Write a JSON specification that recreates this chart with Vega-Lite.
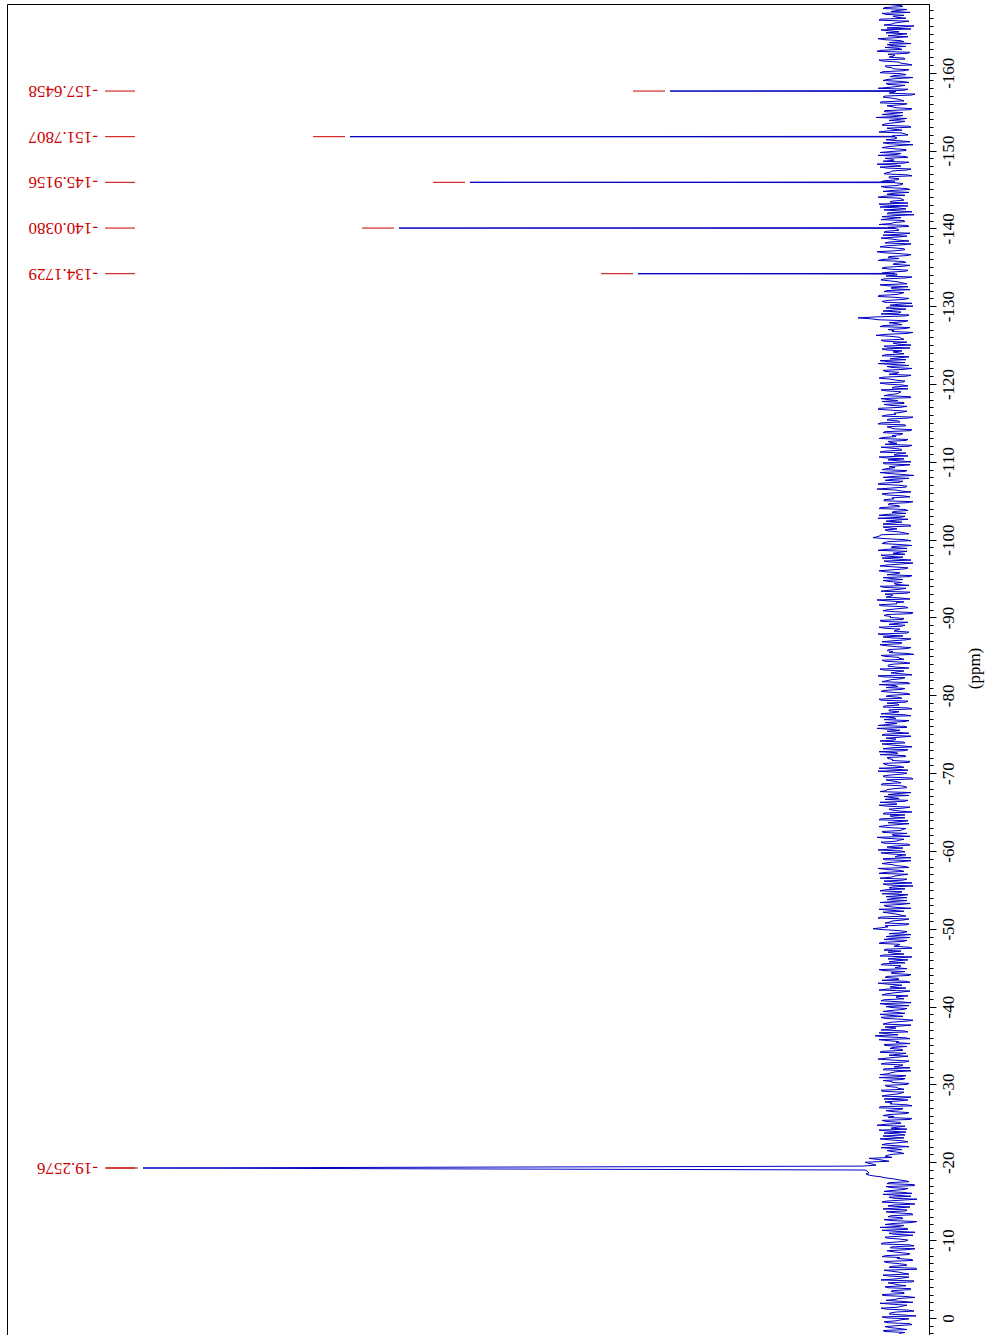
{
"$schema": "https://vega.github.io/schema/vega-lite/v6.json",
"width": 922, "height": 1331,
"autosize": {"type": "none"},
"padding": {"left": 7, "top": 4, "right": 60, "bottom": 0},
"background": "white",
"config": {"view": {"stroke": "black", "strokeWidth": 1}},
"datasets": {
"peaks": [
{"p":-157.6458,"i":225,"t":"-157.6458"},
{"p":-151.7807,"i":545,"t":"-151.7807"},
{"p":-145.9156,"i":425,"t":"-145.9156"},
{"p":-140.038,"i":496,"t":"-140.0380"},
{"p":-134.1729,"i":257,"t":"-134.1729"},
{"p":-19.2576,"i":752,"t":"-19.2576"}
],
"spec": [
{"p":-168.75,"i":5},{"p":-168.5,"i":-8},{"p":-168.25,"i":12},{"p":-168,"i":-3},{"p":-167.75,"i":-15},{"p":-167.5,"i":9},{"p":-167.25,"i":2},{"p":-167,"i":-11},{"p":-166.75,"i":16},{"p":-166.5,"i":-6},{"p":-166.25,"i":3},{"p":-166,"i":-19},{"p":-165.75,"i":8},{"p":-165.5,"i":14},{"p":-165.25,"i":-4},{"p":-165,"i":-12},{"p":-164.75,"i":7},{"p":-164.5,"i":-1},{"p":-164.25,"i":11},{"p":-164,"i":-9},
{"p":-163.75,"i":-16},{"p":-163.5,"i":4},{"p":-163.25,"i":10},{"p":-163,"i":-7},{"p":-162.75,"i":18},{"p":-162.5,"i":-13},{"p":-162.25,"i":0},{"p":-162,"i":6},{"p":-161.75,"i":-10},{"p":-161.5,"i":13},{"p":-161.25,"i":-5},{"p":-161,"i":-17},{"p":-160.75,"i":9},{"p":-160.5,"i":2},{"p":-160.25,"i":-8},{"p":-160,"i":15},{"p":-159.75,"i":-11},{"p":-159.5,"i":5},{"p":-159.25,"i":-2},{"p":-159,"i":12},
{"p":-158.75,"i":-14},{"p":-158.5,"i":7},{"p":-158.25,"i":-3},{"p":-158,"i":17},{"p":-157.75,"i":-9},{"p":-157.69,"i":1},{"p":-157.6458,"i":225},{"p":-157.6,"i":-1},{"p":-157.5,"i":1},{"p":-157.25,"i":-20},{"p":-157,"i":10},{"p":-156.75,"i":4},{"p":-156.5,"i":-6},{"p":-156.25,"i":14},{"p":-156,"i":-12},{"p":-155.75,"i":8},{"p":-155.5,"i":-1},{"p":-155.25,"i":-15},{"p":-155,"i":11},{"p":-154.75,"i":3},{"p":-154.5,"i":-8},{"p":-154.25,"i":19},{"p":-154,"i":-4},
{"p":-153.75,"i":-10},{"p":-153.5,"i":6},{"p":-153.25,"i":13},{"p":-153,"i":-16},{"p":-152.75,"i":2},{"p":-152.5,"i":9},{"p":-152.25,"i":-7},{"p":-152,"i":-13},{"p":-151.82,"i":0},{"p":-151.7807,"i":545},{"p":-151.75,"i":1},{"p":-151.5,"i":0},{"p":-151.25,"i":-5},{"p":-151,"i":12},{"p":-150.75,"i":-18},{"p":-150.5,"i":7},{"p":-150.25,"i":3},{"p":-150,"i":-11},{"p":-149.75,"i":15},{"p":-149.5,"i":-2},{"p":-149.25,"i":-9},{"p":-149,"i":10},
{"p":-148.75,"i":1},{"p":-148.5,"i":-14},{"p":-148.25,"i":18},{"p":-148,"i":-6},{"p":-147.75,"i":8},{"p":-147.5,"i":-12},{"p":-147.25,"i":4},{"p":-147,"i":11},{"p":-146.75,"i":-17},{"p":-146.5,"i":6},{"p":-146.25,"i":-3},{"p":-146,"i":14},{"p":-145.955,"i":0},{"p":-145.9156,"i":425},{"p":-145.875,"i":1},{"p":-145.75,"i":-8},{"p":-145.5,"i":-1},{"p":-145.25,"i":9},{"p":-145,"i":-15},{"p":-144.75,"i":12},{"p":-144.5,"i":2},{"p":-144.25,"i":-10},{"p":-144,"i":17},
{"p":-143.75,"i":-7},{"p":-143.5,"i":3},{"p":-143.25,"i":-13},{"p":-143,"i":10},{"p":-142.75,"i":15},{"p":-142.5,"i":-11},{"p":-142.25,"i":-2},{"p":-142,"i":7},{"p":-141.75,"i":-19},{"p":-141.5,"i":13},{"p":-141.25,"i":5},{"p":-141,"i":-9},{"p":-140.75,"i":1},{"p":-140.5,"i":16},{"p":-140.25,"i":-14},{"p":-140.08,"i":0},{"p":-140.038,"i":496},{"p":-140,"i":0},{"p":-139.75,"i":-4},{"p":-139.5,"i":11},{"p":-139.25,"i":-6},{"p":-139,"i":-12},
{"p":-138.75,"i":14},{"p":-138.5,"i":-3},{"p":-138.25,"i":6},{"p":-138,"i":-16},{"p":-137.75,"i":9},{"p":-137.5,"i":2},{"p":-137.25,"i":-10},{"p":-137,"i":18},{"p":-136.75,"i":-5},{"p":-136.5,"i":-12},{"p":-136.25,"i":7},{"p":-136,"i":12},{"p":-135.75,"i":-8},{"p":-135.5,"i":0},{"p":-135.25,"i":-15},{"p":-135,"i":10},{"p":-134.75,"i":4},{"p":-134.5,"i":-11},{"p":-134.25,"i":13},{"p":-134.21,"i":0},{"p":-134.1729,"i":257},{"p":-134.13,"i":1},{"p":-134,"i":-2},
{"p":-133.75,"i":-17},{"p":-133.5,"i":11},{"p":-133.25,"i":5},{"p":-133,"i":-7},{"p":-132.75,"i":15},{"p":-132.5,"i":-13},{"p":-132.25,"i":3},{"p":-132,"i":8},{"p":-131.75,"i":-9},{"p":-131.5,"i":-1},{"p":-131.25,"i":17},{"p":-131,"i":-14},{"p":-130.75,"i":6},{"p":-130.5,"i":10},{"p":-130.25,"i":-4},{"p":-130,"i":-18},{"p":-129.75,"i":9},{"p":-129.5,"i":1},{"p":-129.25,"i":-6},{"p":-129,"i":14},
{"p":-128.75,"i":-11},{"p":-128.5,"i":37},{"p":-128.25,"i":16},{"p":-128,"i":-8},{"p":-127.75,"i":-2},{"p":-127.5,"i":12},{"p":-127.25,"i":-15},{"p":-127,"i":7},{"p":-126.75,"i":3},{"p":-126.5,"i":-12},{"p":-126.25,"i":19},{"p":-126,"i":-5},{"p":-125.75,"i":-9},{"p":-125.5,"i":11},{"p":-125.25,"i":2},{"p":-125,"i":-16},{"p":-124.75,"i":8},{"p":-124.5,"i":13},{"p":-124.25,"i":-7},{"p":-124,"i":-3},
{"p":-123.75,"i":10},{"p":-123.5,"i":-14},{"p":-123.25,"i":5},{"p":-123,"i":15},{"p":-122.75,"i":-10},{"p":-122.5,"i":0},{"p":-122.25,"i":8},{"p":-122,"i":-17},{"p":-121.75,"i":12},{"p":-121.5,"i":-4},{"p":-121.25,"i":6},{"p":-121,"i":-11},{"p":-120.75,"i":16},{"p":-120.5,"i":-1},{"p":-120.25,"i":-8},{"p":-120,"i":9},{"p":-119.75,"i":-13},{"p":-119.5,"i":3},{"p":-119.25,"i":14},{"p":-119,"i":-6},
{"p":-118.75,"i":-2},{"p":-118.5,"i":11},{"p":-118.25,"i":-16},{"p":-118,"i":7},{"p":-117.75,"i":13},{"p":-117.5,"i":-9},{"p":-117.25,"i":4},{"p":-117,"i":-5},{"p":-116.75,"i":17},{"p":-116.5,"i":-12},{"p":-116.25,"i":1},{"p":-116,"i":9},{"p":-115.75,"i":-18},{"p":-115.5,"i":6},{"p":-115.25,"i":-3},{"p":-115,"i":14},{"p":-114.75,"i":-10},{"p":-114.5,"i":8},{"p":-114.25,"i":2},{"p":-114,"i":-15},
{"p":-113.75,"i":12},{"p":-113.5,"i":-6},{"p":-113.25,"i":-1},{"p":-113,"i":16},{"p":-112.75,"i":-11},{"p":-112.5,"i":5},{"p":-112.25,"i":10},{"p":-112,"i":-14},{"p":-111.75,"i":3},{"p":-111.5,"i":-7},{"p":-111.25,"i":15},{"p":-111,"i":-2},{"p":-110.75,"i":-13},{"p":-110.5,"i":9},{"p":-110.25,"i":7},{"p":-110,"i":-16},{"p":-109.75,"i":11},{"p":-109.5,"i":-4},{"p":-109.25,"i":0},{"p":-109,"i":13},
{"p":-108.75,"i":-9},{"p":-108.5,"i":6},{"p":-108.25,"i":-19},{"p":-108,"i":12},{"p":-107.75,"i":2},{"p":-107.5,"i":-8},{"p":-107.25,"i":14},{"p":-107,"i":-3},{"p":-106.75,"i":-11},{"p":-106.5,"i":18},{"p":-106.25,"i":-6},{"p":-106,"i":4},{"p":-105.75,"i":9},{"p":-105.5,"i":-15},{"p":-105.25,"i":1},{"p":-105,"i":11},{"p":-104.75,"i":-12},{"p":-104.5,"i":7},{"p":-104.25,"i":-5},{"p":-104,"i":16},
{"p":-103.75,"i":-13},{"p":-103.5,"i":3},{"p":-103.25,"i":8},{"p":-103,"i":-10},{"p":-102.75,"i":17},{"p":-102.5,"i":-1},{"p":-102.25,"i":-7},{"p":-102,"i":12},{"p":-101.75,"i":-16},{"p":-101.5,"i":5},{"p":-101.25,"i":10},{"p":-101,"i":-4},{"p":-100.75,"i":-14},{"p":-100.5,"i":15},{"p":-100.25,"i":22},{"p":-100,"i":-9},{"p":-99.75,"i":6},{"p":-99.5,"i":13},{"p":-99.25,"i":-17},{"p":-99,"i":4},
{"p":-98.75,"i":9},{"p":-98.5,"i":-12},{"p":-98.25,"i":2},{"p":-98,"i":14},{"p":-97.75,"i":-8},{"p":-97.5,"i":-3},{"p":-97.25,"i":11},{"p":-97,"i":-18},{"p":-96.75,"i":7},{"p":-96.5,"i":1},{"p":-96.25,"i":-10},{"p":-96,"i":16},{"p":-95.75,"i":-5},{"p":-95.5,"i":8},{"p":-95.25,"i":-14},{"p":-95,"i":3},{"p":-94.75,"i":12},{"p":-94.5,"i":-7},{"p":-94.25,"i":-1},{"p":-94,"i":15},
{"p":-93.75,"i":-11},{"p":-93.5,"i":6},{"p":-93.25,"i":-15},{"p":-93,"i":10},{"p":-92.75,"i":4},{"p":-92.5,"i":-6},{"p":-92.25,"i":18},{"p":-92,"i":-9},{"p":-91.75,"i":-2},{"p":-91.5,"i":13},{"p":-91.25,"i":-13},{"p":-91,"i":7},{"p":-90.75,"i":2},{"p":-90.5,"i":-17},{"p":-90.25,"i":11},{"p":-90,"i":5},{"p":-89.75,"i":-8},{"p":-89.5,"i":14},{"p":-89.25,"i":-3},{"p":-89,"i":-10},
{"p":-88.75,"i":16},{"p":-88.5,"i":-5},{"p":-88.25,"i":1},{"p":-88,"i":-12},{"p":-87.75,"i":9},{"p":-87.5,"i":12},{"p":-87.25,"i":-16},{"p":-87,"i":3},{"p":-86.75,"i":-7},{"p":-86.5,"i":15},{"p":-86.25,"i":-1},{"p":-86,"i":-11},{"p":-85.75,"i":8},{"p":-85.5,"i":6},{"p":-85.25,"i":-19},{"p":-85,"i":10},{"p":-84.75,"i":-4},{"p":-84.5,"i":13},{"p":-84.25,"i":-9},{"p":-84,"i":2},
{"p":-83.75,"i":7},{"p":-83.5,"i":-14},{"p":-83.25,"i":11},{"p":-83,"i":-2},{"p":-82.75,"i":-8},{"p":-82.5,"i":17},{"p":-82.25,"i":-10},{"p":-82,"i":4},{"p":-81.75,"i":13},{"p":-81.5,"i":-15},{"p":-81.25,"i":0},{"p":-81,"i":9},{"p":-80.75,"i":-6},{"p":-80.5,"i":14},{"p":-80.25,"i":-12},{"p":-80,"i":5},{"p":-79.75,"i":-3},{"p":-79.5,"i":16},{"p":-79.25,"i":-13},{"p":-79,"i":8},
{"p":-78.75,"i":-4},{"p":-78.5,"i":12},{"p":-78.25,"i":-17},{"p":-78,"i":6},{"p":-77.75,"i":3},{"p":-77.5,"i":-9},{"p":-77.25,"i":15},{"p":-77,"i":-1},{"p":-76.75,"i":-14},{"p":-76.5,"i":10},{"p":-76.25,"i":7},{"p":-76,"i":-11},{"p":-75.75,"i":18},{"p":-75.5,"i":-5},{"p":-75.25,"i":-2},{"p":-75,"i":11},{"p":-74.75,"i":-16},{"p":-74.5,"i":9},{"p":-74.25,"i":1},{"p":-74,"i":-8},
{"p":-73.75,"i":13},{"p":-73.5,"i":-7},{"p":-73.25,"i":4},{"p":-73,"i":-13},{"p":-72.75,"i":16},{"p":-72.5,"i":-3},{"p":-72.25,"i":-10},{"p":-72,"i":8},{"p":-71.75,"i":2},{"p":-71.5,"i":-15},{"p":-71.25,"i":12},{"p":-71,"i":6},{"p":-70.75,"i":-9},{"p":-70.5,"i":-1},{"p":-70.25,"i":17},{"p":-70,"i":-12},{"p":-69.75,"i":5},{"p":-69.5,"i":10},{"p":-69.25,"i":-18},{"p":-69,"i":3},
{"p":-68.75,"i":-6},{"p":-68.5,"i":14},{"p":-68.25,"i":-11},{"p":-68,"i":1},{"p":-67.75,"i":9},{"p":-67.5,"i":-16},{"p":-67.25,"i":7},{"p":-67,"i":11},{"p":-66.75,"i":-4},{"p":-66.5,"i":-13},{"p":-66.25,"i":15},{"p":-66,"i":-2},{"p":-65.75,"i":8},{"p":-65.5,"i":-8},{"p":-65.25,"i":3},{"p":-65,"i":-17},{"p":-64.75,"i":12},{"p":-64.5,"i":5},{"p":-64.25,"i":-10},{"p":-64,"i":16},
{"p":-63.75,"i":-3},{"p":-63.5,"i":-14},{"p":-63.25,"i":10},{"p":-63,"i":6},{"p":-62.75,"i":-7},{"p":-62.5,"i":13},{"p":-62.25,"i":-12},{"p":-62,"i":2},{"p":-61.75,"i":18},{"p":-61.5,"i":-9},{"p":-61.25,"i":-1},{"p":-61,"i":11},{"p":-60.75,"i":-15},{"p":-60.5,"i":8},{"p":-60.25,"i":4},{"p":-60,"i":-6},{"p":-59.75,"i":14},{"p":-59.5,"i":-11},{"p":-59.25,"i":0},{"p":-59,"i":12},
{"p":-58.75,"i":-16},{"p":-58.5,"i":7},{"p":-58.25,"i":3},{"p":-58,"i":-10},{"p":-57.75,"i":17},{"p":-57.5,"i":-5},{"p":-57.25,"i":9},{"p":-57,"i":-13},{"p":-56.75,"i":1},{"p":-56.5,"i":15},{"p":-56.25,"i":-8},{"p":-56,"i":-2},{"p":-55.75,"i":12},{"p":-55.5,"i":-18},{"p":-55.25,"i":6},{"p":-55,"i":10},{"p":-54.75,"i":-7},{"p":-54.5,"i":13},{"p":-54.25,"i":-4},{"p":-54,"i":-12},
{"p":-53.75,"i":8},{"p":-53.5,"i":2},{"p":-53.25,"i":-15},{"p":-53,"i":11},{"p":-52.75,"i":-1},{"p":-52.5,"i":16},{"p":-52.25,"i":-9},{"p":-52,"i":5},{"p":-51.75,"i":-6},{"p":-51.5,"i":14},{"p":-51.25,"i":-14},{"p":-51,"i":3},{"p":-50.75,"i":10},{"p":-50.5,"i":-11},{"p":-50.25,"i":7},{"p":-50,"i":22},{"p":-49.75,"i":-5},{"p":-49.5,"i":-8},{"p":-49.25,"i":-16},{"p":-49,"i":9},
{"p":-48.75,"i":4},{"p":-48.5,"i":-12},{"p":-48.25,"i":13},{"p":-48,"i":-5},{"p":-47.75,"i":1},{"p":-47.5,"i":-17},{"p":-47.25,"i":11},{"p":-47,"i":7},{"p":-46.75,"i":-9},{"p":-46.5,"i":15},{"p":-46.25,"i":-2},{"p":-46,"i":-13},{"p":-45.75,"i":6},{"p":-45.5,"i":12},{"p":-45.25,"i":-6},{"p":-45,"i":0},{"p":-44.75,"i":16},{"p":-44.5,"i":-10},{"p":-44.25,"i":3},{"p":-44,"i":-14},
{"p":-43.75,"i":10},{"p":-43.5,"i":-4},{"p":-43.25,"i":-11},{"p":-43,"i":17},{"p":-42.75,"i":-7},{"p":-42.5,"i":5},{"p":-42.25,"i":8},{"p":-42,"i":-15},{"p":-41.75,"i":2},{"p":-41.5,"i":13},{"p":-41.25,"i":-1},{"p":-41,"i":-9},{"p":-40.75,"i":14},{"p":-40.5,"i":-16},{"p":-40.25,"i":6},{"p":-40,"i":9},{"p":-39.75,"i":-12},{"p":-39.5,"i":4},{"p":-39.25,"i":-3},{"p":-39,"i":15},
{"p":-38.75,"i":-8},{"p":-38.5,"i":11},{"p":-38.25,"i":-18},{"p":-38,"i":3},{"p":-37.75,"i":12},{"p":-37.5,"i":-6},{"p":-37.25,"i":-1},{"p":-37,"i":14},{"p":-36.75,"i":-13},{"p":-36.5,"i":7},{"p":-36.25,"i":20},{"p":-36,"i":-10},{"p":-35.75,"i":16},{"p":-35.5,"i":-4},{"p":-35.25,"i":-15},{"p":-35,"i":10},{"p":-34.75,"i":2},{"p":-34.5,"i":-7},{"p":-34.25,"i":13},{"p":-34,"i":-11},
{"p":-33.75,"i":6},{"p":-33.5,"i":-2},{"p":-33.25,"i":17},{"p":-33,"i":-14},{"p":-32.75,"i":9},{"p":-32.5,"i":-8},{"p":-32.25,"i":1},{"p":-32,"i":11},{"p":-31.75,"i":-16},{"p":-31.5,"i":4},{"p":-31.25,"i":15},{"p":-31,"i":-5},{"p":-30.75,"i":-10},{"p":-30.5,"i":12},{"p":-30.25,"i":3},{"p":-30,"i":-12},{"p":-29.75,"i":8},{"p":-29.5,"i":-3},{"p":-29.25,"i":14},{"p":-29,"i":-9},
{"p":-28.75,"i":-1},{"p":-28.5,"i":13},{"p":-28.25,"i":-7},{"p":-28,"i":-13},{"p":-27.75,"i":10},{"p":-27.5,"i":5},{"p":-27.25,"i":-17},{"p":-27,"i":16},{"p":-26.75,"i":-4},{"p":-26.5,"i":2},{"p":-26.25,"i":-11},{"p":-26,"i":12},{"p":-25.75,"i":7},{"p":-25.5,"i":-15},{"p":-25.25,"i":9},{"p":-25,"i":-6},{"p":-24.75,"i":18},{"p":-24.5,"i":-2},{"p":-24.25,"i":-12},{"p":-24,"i":6},
{"p":-23.75,"i":11},{"p":-23.5,"i":-10},{"p":-23.25,"i":3},{"p":-23,"i":15},{"p":-22.75,"i":-8},{"p":-22.5,"i":-3},{"p":-22.25,"i":13},{"p":-22,"i":-14},{"p":-21.75,"i":1},{"p":-21.5,"i":8},{"p":-21.25,"i":-5},{"p":-21,"i":4},{"p":-20.75,"i":10},{"p":-20.5,"i":26},{"p":-20.25,"i":12},{"p":-20,"i":30},{"p":-19.75,"i":22},{"p":-19.5,"i":33},{"p":-19.2576,"i":752},{"p":-19,"i":30},
{"p":-18.75,"i":27},{"p":-18.5,"i":29},{"p":-18.25,"i":22},{"p":-18,"i":10},
{"p":-17.75,"i":-3},{"p":-17.5,"i":-14},{"p":-17.25,"i":8},{"p":-17,"i":-20},{"p":-16.75,"i":4},{"p":-16.5,"i":-9},{"p":-16.25,"i":11},{"p":-16,"i":-17},{"p":-15.75,"i":-2},{"p":-15.5,"i":6},{"p":-15.25,"i":-22},{"p":-15,"i":9},{"p":-14.75,"i":-7},{"p":-14.5,"i":2},{"p":-14.25,"i":-15},{"p":-14,"i":12},{"p":-13.75,"i":-11},{"p":-13.5,"i":-1},{"p":-13.25,"i":-18},{"p":-13,"i":7},
{"p":-12.75,"i":-8},{"p":-12.5,"i":3},{"p":-12.25,"i":-16},{"p":-12,"i":10},{"p":-11.75,"i":-4},{"p":-11.5,"i":-12},{"p":-11.25,"i":13},{"p":-11,"i":-20},{"p":-10.75,"i":1},{"p":-10.5,"i":-6},{"p":-10.25,"i":8},{"p":-10,"i":-13},{"p":-9.75,"i":-2},{"p":-9.5,"i":14},{"p":-9.25,"i":-19},{"p":-9,"i":5},{"p":-8.75,"i":-10},{"p":-8.5,"i":2},{"p":-8.25,"i":-15},{"p":-8,"i":9},
{"p":-7.75,"i":-5},{"p":-7.5,"i":-17},{"p":-7.25,"i":11},{"p":-7,"i":-1},{"p":-6.75,"i":-12},{"p":-6.5,"i":6},{"p":-6.25,"i":-22},{"p":-6,"i":4},{"p":-5.75,"i":-8},{"p":-5.5,"i":12},{"p":-5.25,"i":-14},{"p":-5,"i":0},{"p":-4.75,"i":-19},{"p":-4.5,"i":7},{"p":-4.25,"i":-3},{"p":-4,"i":10},{"p":-3.75,"i":-16},{"p":-3.5,"i":3},{"p":-3.25,"i":-9},{"p":-3,"i":13},
{"p":-2.75,"i":-11},{"p":-2.5,"i":-4},{"p":-2.25,"i":9},{"p":-2,"i":-18},{"p":-1.75,"i":2},{"p":-1.5,"i":-7},{"p":-1.25,"i":14},{"p":-1,"i":-13},{"p":-0.75,"i":-1},{"p":-0.5,"i":6},{"p":-0.25,"i":-21},{"p":0,"i":8},{"p":0.25,"i":-6},{"p":0.5,"i":11},{"p":0.75,"i":-15},{"p":1,"i":-2},{"p":1.25,"i":5},{"p":1.5,"i":-12},{"p":1.75,"i":10},{"p":2,"i":-4},
{"p":-168.625,"i":-6},{"p":-168.375,"i":10},{"p":-168.125,"i":-12},{"p":-167.875,"i":4},{"p":-167.625,"i":13},{"p":-167.375,"i":-9},{"p":-167.125,"i":-2},{"p":-166.875,"i":15},{"p":-166.625,"i":-14},{"p":-166.375,"i":1},{"p":-166.125,"i":11},{"p":-165.875,"i":-7},{"p":-165.625,"i":-16},{"p":-165.375,"i":5},{"p":-165.125,"i":9},{"p":-164.875,"i":-3},{"p":-164.625,"i":-13},{"p":-164.375,"i":17},{"p":-164.125,"i":-5},{"p":-163.875,"i":6},
{"p":-163.625,"i":8},{"p":-163.375,"i":-11},{"p":-163.125,"i":-3},{"p":-162.875,"i":14},{"p":-162.625,"i":-15},{"p":-162.375,"i":7},{"p":-162.125,"i":2},{"p":-161.875,"i":-9},{"p":-161.625,"i":16},{"p":-161.375,"i":-4},{"p":-161.125,"i":-12},{"p":-160.875,"i":10},{"p":-160.625,"i":3},{"p":-160.375,"i":-14},{"p":-160.125,"i":12},{"p":-159.875,"i":-6},{"p":-159.625,"i":1},{"p":-159.375,"i":-18},{"p":-159.125,"i":8},{"p":-158.875,"i":-7},
{"p":-158.625,"i":9},{"p":-158.375,"i":-10},{"p":-158.125,"i":5},{"p":-157.875,"i":-13},{"p":-157.375,"i":6},{"p":-157.125,"i":-16},{"p":-156.875,"i":12},{"p":-156.625,"i":-2},{"p":-156.375,"i":-9},{"p":-156.125,"i":15},{"p":-155.875,"i":-5},{"p":-155.625,"i":3},{"p":-155.375,"i":-17},{"p":-155.125,"i":10},{"p":-154.875,"i":-8},{"p":-154.625,"i":13},{"p":-154.375,"i":-1},{"p":-154.125,"i":-12},{"p":-153.875,"i":6},
{"p":-153.625,"i":-4},{"p":-153.375,"i":11},{"p":-153.125,"i":-14},{"p":-152.875,"i":8},{"p":-152.625,"i":-7},{"p":-152.375,"i":16},{"p":-152.125,"i":-10},{"p":-151.875,"i":3},{"p":-151.625,"i":-2},{"p":-151.375,"i":9},{"p":-151.125,"i":-15},{"p":-150.875,"i":6},{"p":-150.625,"i":-3},{"p":-150.375,"i":13},{"p":-150.125,"i":-11},{"p":-149.875,"i":4},{"p":-149.625,"i":-6},{"p":-149.375,"i":17},{"p":-149.125,"i":-13},{"p":-148.875,"i":2},
{"p":-148.625,"i":12},{"p":-148.375,"i":-8},{"p":-148.125,"i":-1},{"p":-147.875,"i":15},{"p":-147.625,"i":-16},{"p":-147.375,"i":3},{"p":-147.125,"i":9},{"p":-146.875,"i":-12},{"p":-146.625,"i":6},{"p":-146.375,"i":-4},{"p":-146.125,"i":10},{"p":-145.625,"i":-7},{"p":-145.375,"i":14},{"p":-145.125,"i":-11},{"p":-144.875,"i":2},{"p":-144.625,"i":-14},{"p":-144.375,"i":8},{"p":-144.125,"i":11},{"p":-143.875,"i":-5},
{"p":-143.625,"i":-9},{"p":-143.375,"i":5},{"p":-143.125,"i":16},{"p":-142.875,"i":-13},{"p":-142.625,"i":-3},{"p":-142.375,"i":11},{"p":-142.125,"i":-17},{"p":-141.875,"i":8},{"p":-141.625,"i":2},{"p":-141.375,"i":-6},{"p":-141.125,"i":14},{"p":-140.875,"i":-10},{"p":-140.625,"i":4},{"p":-140.375,"i":-12},{"p":-140.125,"i":7},{"p":-139.875,"i":-3},{"p":-139.625,"i":9},{"p":-139.375,"i":-15},{"p":-139.125,"i":12},{"p":-138.875,"i":-1},
{"p":-138.625,"i":3},{"p":-138.375,"i":-14},{"p":-138.125,"i":10},{"p":-137.875,"i":-6},{"p":-137.625,"i":15},{"p":-137.375,"i":-9},{"p":-137.125,"i":-1},{"p":-136.875,"i":12},{"p":-136.625,"i":-16},{"p":-136.375,"i":6},{"p":-136.125,"i":-4},{"p":-135.875,"i":17},{"p":-135.625,"i":-11},{"p":-135.375,"i":2},{"p":-135.125,"i":-8},{"p":-134.875,"i":13},{"p":-134.625,"i":-13},{"p":-134.375,"i":5},{"p":-134.125,"i":-2},{"p":-133.875,"i":9},
{"p":-133.625,"i":-10},{"p":-133.375,"i":14},{"p":-133.125,"i":-3},{"p":-132.875,"i":-12},{"p":-132.625,"i":8},{"p":-132.375,"i":4},{"p":-132.125,"i":-15},{"p":-131.875,"i":11},{"p":-131.625,"i":-6},{"p":-131.375,"i":16},{"p":-131.125,"i":-2},{"p":-130.875,"i":-9},{"p":-130.625,"i":13},{"p":-130.375,"i":-17},{"p":-130.125,"i":5},{"p":-129.875,"i":7},{"p":-129.625,"i":-11},{"p":-129.375,"i":12},{"p":-129.125,"i":-4},{"p":-128.875,"i":-14},
{"p":-128.625,"i":18},{"p":-128.375,"i":24},{"p":-128.125,"i":-13},{"p":-127.875,"i":6},{"p":-127.625,"i":-7},{"p":-127.375,"i":15},{"p":-127.125,"i":-10},{"p":-126.875,"i":1},{"p":-126.625,"i":-18},{"p":-126.375,"i":10},{"p":-126.125,"i":4},{"p":-125.875,"i":-6},{"p":-125.625,"i":14},{"p":-125.375,"i":-12},{"p":-125.125,"i":-3},{"p":-124.875,"i":11},{"p":-124.625,"i":-15},{"p":-124.375,"i":8},{"p":-124.125,"i":2},{"p":-123.875,"i":-9},
{"p":-123.625,"i":13},{"p":-123.375,"i":-5},{"p":-123.125,"i":-11},{"p":-122.875,"i":7},{"p":-122.625,"i":17},{"p":-122.375,"i":-14},{"p":-122.125,"i":3},{"p":-121.875,"i":-8},{"p":-121.625,"i":10},{"p":-121.375,"i":-2},{"p":-121.125,"i":-16},{"p":-120.875,"i":12},{"p":-120.625,"i":5},{"p":-120.375,"i":-10},{"p":-120.125,"i":15},{"p":-119.875,"i":-7},{"p":-119.625,"i":1},{"p":-119.375,"i":-13},{"p":-119.125,"i":9},{"p":-118.875,"i":-4},
{"p":-118.625,"i":6},{"p":-118.375,"i":-15},{"p":-118.125,"i":14},{"p":-117.875,"i":-3},{"p":-117.625,"i":-9},{"p":-117.375,"i":11},{"p":-117.125,"i":-12},{"p":-116.875,"i":16},{"p":-116.625,"i":2},{"p":-116.375,"i":-7},{"p":-116.125,"i":-1},{"p":-115.875,"i":13},{"p":-115.625,"i":-14},{"p":-115.375,"i":8},{"p":-115.125,"i":-5},{"p":-114.875,"i":17},{"p":-114.625,"i":-11},{"p":-114.375,"i":4},{"p":-114.125,"i":-17},{"p":-113.875,"i":10},
{"p":-113.625,"i":-8},{"p":-113.375,"i":3},{"p":-113.125,"i":12},{"p":-112.875,"i":-13},{"p":-112.625,"i":7},{"p":-112.375,"i":-2},{"p":-112.125,"i":-17},{"p":-111.875,"i":14},{"p":-111.625,"i":-6},{"p":-111.375,"i":10},{"p":-111.125,"i":-11},{"p":-110.875,"i":1},{"p":-110.625,"i":16},{"p":-110.375,"i":-9},{"p":-110.125,"i":-4},{"p":-109.875,"i":12},{"p":-109.625,"i":-15},{"p":-109.375,"i":6},{"p":-109.125,"i":8},{"p":-108.875,"i":-12},
{"p":-108.625,"i":15},{"p":-108.375,"i":-7},{"p":-108.125,"i":2},{"p":-107.875,"i":-14},{"p":-107.625,"i":10},{"p":-107.375,"i":-4},{"p":-107.125,"i":17},{"p":-106.875,"i":-12},{"p":-106.625,"i":5},{"p":-106.375,"i":-1},{"p":-106.125,"i":-16},{"p":-105.875,"i":13},{"p":-105.625,"i":-8},{"p":-105.375,"i":3},{"p":-105.125,"i":11},{"p":-104.875,"i":-18},{"p":-104.625,"i":6},{"p":-104.375,"i":-3},{"p":-104.125,"i":14},{"p":-103.875,"i":-10},
{"p":-103.625,"i":1},{"p":-103.375,"i":-11},{"p":-103.125,"i":16},{"p":-102.875,"i":-6},{"p":-102.625,"i":-13},{"p":-102.375,"i":9},{"p":-102.125,"i":4},{"p":-101.875,"i":-15},{"p":-101.625,"i":12},{"p":-101.375,"i":-2},{"p":-101.125,"i":7},{"p":-100.875,"i":-9},{"p":-100.625,"i":14},{"p":-100.375,"i":18},{"p":-100.125,"i":9},{"p":-99.875,"i":-16},{"p":-99.625,"i":11},{"p":-99.375,"i":-5},{"p":-99.125,"i":2},{"p":-98.875,"i":-12},
{"p":-98.625,"i":17},{"p":-98.375,"i":-4},{"p":-98.125,"i":-10},{"p":-97.875,"i":8},{"p":-97.625,"i":13},{"p":-97.375,"i":-16},{"p":-97.125,"i":5},{"p":-96.875,"i":-7},{"p":-96.625,"i":15},{"p":-96.375,"i":-13},{"p":-96.125,"i":3},{"p":-95.875,"i":10},{"p":-95.625,"i":-2},{"p":-95.375,"i":-17},{"p":-95.125,"i":12},{"p":-94.875,"i":-8},{"p":-94.625,"i":6},{"p":-94.375,"i":1},{"p":-94.125,"i":-14},{"p":-93.875,"i":11},
{"p":-93.625,"i":-5},{"p":-93.375,"i":14},{"p":-93.125,"i":-12},{"p":-92.875,"i":2},{"p":-92.625,"i":9},{"p":-92.375,"i":-15},{"p":-92.125,"i":7},{"p":-91.875,"i":-1},{"p":-91.625,"i":16},{"p":-91.375,"i":-10},{"p":-91.125,"i":-3},{"p":-90.875,"i":12},{"p":-90.625,"i":-18},{"p":-90.375,"i":8},{"p":-90.125,"i":4},{"p":-89.875,"i":-9},{"p":-89.625,"i":15},{"p":-89.375,"i":-13},{"p":-89.125,"i":6},{"p":-88.875,"i":-6},
{"p":-88.625,"i":11},{"p":-88.375,"i":-2},{"p":-88.125,"i":-14},{"p":-87.875,"i":17},{"p":-87.625,"i":-8},{"p":-87.375,"i":3},{"p":-87.125,"i":-11},{"p":-86.875,"i":13},{"p":-86.625,"i":-5},{"p":-86.375,"i":9},{"p":-86.125,"i":-16},{"p":-85.875,"i":6},{"p":-85.625,"i":2},{"p":-85.375,"i":-12},{"p":-85.125,"i":14},{"p":-84.875,"i":-4},{"p":-84.625,"i":-9},{"p":-84.375,"i":10},{"p":-84.125,"i":-15},{"p":-83.875,"i":7},
{"p":-83.625,"i":-1},{"p":-83.375,"i":15},{"p":-83.125,"i":-9},{"p":-82.875,"i":4},{"p":-82.625,"i":-17},{"p":-82.375,"i":12},{"p":-82.125,"i":-6},{"p":-81.875,"i":8},{"p":-81.625,"i":-13},{"p":-81.375,"i":16},{"p":-81.125,"i":-3},{"p":-80.875,"i":-10},{"p":-80.625,"i":11},{"p":-80.375,"i":2},{"p":-80.125,"i":-15},{"p":-79.875,"i":9},{"p":-79.625,"i":-7},{"p":-79.375,"i":14},{"p":-79.125,"i":-11},{"p":-78.875,"i":-3},
{"p":-78.625,"i":10},{"p":-78.375,"i":-13},{"p":-78.125,"i":6},{"p":-77.875,"i":-4},{"p":-77.625,"i":14},{"p":-77.375,"i":-16},{"p":-77.125,"i":1},{"p":-76.875,"i":11},{"p":-76.625,"i":-9},{"p":-76.375,"i":-2},{"p":-76.125,"i":17},{"p":-75.875,"i":-12},{"p":-75.625,"i":5},{"p":-75.375,"i":8},{"p":-75.125,"i":-14},{"p":-74.875,"i":13},{"p":-74.625,"i":-6},{"p":-74.375,"i":-1},{"p":-74.125,"i":15},{"p":-73.875,"i":-10},
{"p":-73.625,"i":4},{"p":-73.375,"i":-17},{"p":-73.125,"i":12},{"p":-72.875,"i":-8},{"p":-72.625,"i":-2},{"p":-72.375,"i":15},{"p":-72.125,"i":-11},{"p":-71.875,"i":7},{"p":-71.625,"i":3},{"p":-71.375,"i":-14},{"p":-71.125,"i":10},{"p":-70.875,"i":-5},{"p":-70.625,"i":16},{"p":-70.375,"i":-13},{"p":-70.125,"i":1},{"p":-69.875,"i":-7},{"p":-69.625,"i":12},{"p":-69.375,"i":-16},{"p":-69.125,"i":9},{"p":-68.875,"i":-3},
{"p":-68.625,"i":13},{"p":-68.375,"i":-6},{"p":-68.125,"i":-12},{"p":-67.875,"i":8},{"p":-67.625,"i":15},{"p":-67.375,"i":-3},{"p":-67.125,"i":-14},{"p":-66.875,"i":4},{"p":-66.625,"i":10},{"p":-66.375,"i":-9},{"p":-66.125,"i":-1},{"p":-65.875,"i":16},{"p":-65.625,"i":-15},{"p":-65.375,"i":6},{"p":-65.125,"i":-5},{"p":-64.875,"i":11},{"p":-64.625,"i":-10},{"p":-64.375,"i":2},{"p":-64.125,"i":14},{"p":-63.875,"i":-13},
{"p":-63.625,"i":7},{"p":-63.375,"i":-2},{"p":-63.125,"i":16},{"p":-62.875,"i":-11},{"p":-62.625,"i":-6},{"p":-62.375,"i":12},{"p":-62.125,"i":3},{"p":-61.875,"i":-15},{"p":-61.625,"i":9},{"p":-61.375,"i":-4},{"p":-61.125,"i":14},{"p":-60.875,"i":-13},{"p":-60.625,"i":1},{"p":-60.375,"i":-8},{"p":-60.125,"i":17},{"p":-59.875,"i":-10},{"p":-59.625,"i":5},{"p":-59.375,"i":-3},{"p":-59.125,"i":-16},{"p":-58.875,"i":11},
{"p":-58.625,"i":-7},{"p":-58.375,"i":13},{"p":-58.125,"i":-1},{"p":-57.875,"i":-14},{"p":-57.625,"i":8},{"p":-57.375,"i":-9},{"p":-57.125,"i":16},{"p":-56.875,"i":-5},{"p":-56.625,"i":4},{"p":-56.375,"i":-12},{"p":-56.125,"i":11},{"p":-55.875,"i":-17},{"p":-55.625,"i":7},{"p":-55.375,"i":2},{"p":-55.125,"i":-10},{"p":-54.875,"i":15},{"p":-54.625,"i":-4},{"p":-54.375,"i":-13},{"p":-54.125,"i":9},{"p":-53.875,"i":3},
{"p":-53.625,"i":-12},{"p":-53.375,"i":15},{"p":-53.125,"i":-6},{"p":-52.875,"i":9},{"p":-52.625,"i":-16},{"p":-52.375,"i":4},{"p":-52.125,"i":12},{"p":-51.875,"i":-2},{"p":-51.625,"i":-11},{"p":-51.375,"i":17},{"p":-51.125,"i":-8},{"p":-50.875,"i":5},{"p":-50.625,"i":-14},{"p":-50.375,"i":10},{"p":-50.125,"i":14},{"p":-49.875,"i":10},{"p":-49.625,"i":-12},{"p":-49.375,"i":6},{"p":-49.125,"i":-1},{"p":-48.875,"i":-15},
{"p":-48.625,"i":11},{"p":-48.375,"i":-8},{"p":-48.125,"i":16},{"p":-47.875,"i":-3},{"p":-47.625,"i":-14},{"p":-47.375,"i":9},{"p":-47.125,"i":-6},{"p":-46.875,"i":2},{"p":-46.625,"i":12},{"p":-46.375,"i":-17},{"p":-46.125,"i":7},{"p":-45.875,"i":-1},{"p":-45.625,"i":-10},{"p":-45.375,"i":14},{"p":-45.125,"i":-5},{"p":-44.875,"i":-12},{"p":-44.625,"i":11},{"p":-44.375,"i":4},{"p":-44.125,"i":-16},{"p":-43.875,"i":8},
{"p":-43.625,"i":-3},{"p":-43.375,"i":13},{"p":-43.125,"i":-15},{"p":-42.875,"i":6},{"p":-42.625,"i":1},{"p":-42.375,"i":-11},{"p":-42.125,"i":16},{"p":-41.875,"i":-7},{"p":-41.625,"i":9},{"p":-41.375,"i":-13},{"p":-41.125,"i":-2},{"p":-40.875,"i":11},{"p":-40.625,"i":-4},{"p":-40.375,"i":15},{"p":-40.125,"i":-14},{"p":-39.875,"i":3},{"p":-39.625,"i":-8},{"p":-39.375,"i":12},{"p":-39.125,"i":-10},{"p":-38.875,"i":5},
{"p":-38.625,"i":14},{"p":-38.375,"i":-6},{"p":-38.125,"i":-11},{"p":-37.875,"i":8},{"p":-37.625,"i":-16},{"p":-37.375,"i":10},{"p":-37.125,"i":4},{"p":-36.875,"i":-9},{"p":-36.625,"i":16},{"p":-36.375,"i":-3},{"p":-36.125,"i":12},{"p":-35.875,"i":-15},{"p":-35.625,"i":7},{"p":-35.375,"i":-1},{"p":-35.125,"i":11},{"p":-34.875,"i":-12},{"p":-34.625,"i":5},{"p":-34.375,"i":-8},{"p":-34.125,"i":15},{"p":-33.875,"i":-4},
{"p":-33.625,"i":-13},{"p":-33.375,"i":9},{"p":-33.125,"i":2},{"p":-32.875,"i":-10},{"p":-32.625,"i":14},{"p":-32.375,"i":-5},{"p":-32.125,"i":-15},{"p":-31.875,"i":12},{"p":-31.625,"i":-1},{"p":-31.375,"i":7},{"p":-31.125,"i":-11},{"p":-30.875,"i":16},{"p":-30.625,"i":-7},{"p":-30.375,"i":3},{"p":-30.125,"i":-14},{"p":-29.875,"i":10},{"p":-29.625,"i":-2},{"p":-29.375,"i":-9},{"p":-29.125,"i":13},{"p":-28.875,"i":-6},
{"p":-28.625,"i":8},{"p":-28.375,"i":-16},{"p":-28.125,"i":11},{"p":-27.875,"i":-4},{"p":-27.625,"i":3},{"p":-27.375,"i":-12},{"p":-27.125,"i":15},{"p":-26.875,"i":-8},{"p":-26.625,"i":9},{"p":-26.375,"i":-14},{"p":-26.125,"i":6},{"p":-25.875,"i":1},{"p":-25.625,"i":-17},{"p":-25.375,"i":13},{"p":-25.125,"i":-5},{"p":-24.875,"i":10},{"p":-24.625,"i":-10},{"p":-24.375,"i":4},{"p":-24.125,"i":16},{"p":-23.875,"i":-11},
{"p":-23.625,"i":-4},{"p":-23.375,"i":12},{"p":-23.125,"i":-9},{"p":-22.875,"i":5},{"p":-22.625,"i":-13},{"p":-22.375,"i":9},{"p":-22.125,"i":-1},{"p":-21.875,"i":14},{"p":-21.625,"i":-7},{"p":-21.375,"i":3},{"p":-21.125,"i":-9},{"p":-20.875,"i":8},{"p":-20.625,"i":3},{"p":-20.375,"i":18},{"p":-20.125,"i":6},{"p":-19.875,"i":27},{"p":-19.625,"i":19},{"p":-18.875,"i":28},
{"p":-18.625,"i":26},{"p":-18.375,"i":27},{"p":-18.125,"i":14},{"p":-17.875,"i":2},{"p":-17.625,"i":-10},{"p":-17.375,"i":6},{"p":-17.125,"i":-19},{"p":-16.875,"i":9},{"p":-16.625,"i":-13},{"p":-16.375,"i":3},{"p":-16.125,"i":-8},{"p":-15.875,"i":12},{"p":-15.625,"i":-16},{"p":-15.375,"i":1},{"p":-15.125,"i":-6},{"p":-14.875,"i":13},{"p":-14.625,"i":-20},{"p":-14.375,"i":7},{"p":-14.125,"i":-3},{"p":-13.875,"i":-12},
{"p":-13.625,"i":9},{"p":-13.375,"i":-17},{"p":-13.125,"i":4},{"p":-12.875,"i":-7},{"p":-12.625,"i":11},{"p":-12.375,"i":-22},{"p":-12.125,"i":2},{"p":-11.875,"i":-9},{"p":-11.625,"i":15},{"p":-11.375,"i":-13},{"p":-11.125,"i":-1},{"p":-10.875,"i":6},{"p":-10.625,"i":-18},{"p":-10.375,"i":10},{"p":-10.125,"i":-5},{"p":-9.875,"i":-11},{"p":-9.625,"i":12},{"p":-9.375,"i":-15},{"p":-9.125,"i":3},{"p":-8.875,"i":-20},
{"p":-8.625,"i":8},{"p":-8.375,"i":-6},{"p":-8.125,"i":-13},{"p":-7.875,"i":13},{"p":-7.625,"i":-2},{"p":-7.375,"i":-18},{"p":-7.125,"i":9},{"p":-6.875,"i":-10},{"p":-6.625,"i":3},{"p":-6.375,"i":-21},{"p":-6.125,"i":11},{"p":-5.875,"i":-4},{"p":-5.625,"i":-14},{"p":-5.375,"i":6},{"p":-5.125,"i":-8},{"p":-4.875,"i":14},{"p":-4.625,"i":-17},{"p":-4.375,"i":1},{"p":-4.125,"i":-11},{"p":-3.875,"i":7},
{"p":-3.625,"i":-15},{"p":-3.375,"i":4},{"p":-3.125,"i":-9},{"p":-2.875,"i":12},{"p":-2.625,"i":-20},{"p":-2.375,"i":0},{"p":-2.125,"i":-6},{"p":-1.875,"i":15},{"p":-1.625,"i":-12},{"p":-1.375,"i":-3},{"p":-1.125,"i":9},{"p":-0.875,"i":-19},{"p":-0.625,"i":5},{"p":-0.375,"i":-8},{"p":-0.125,"i":13},{"p":0.125,"i":-14},{"p":0.375,"i":-1},{"p":0.625,"i":7},{"p":0.875,"i":-17},{"p":1.125,"i":10},{"p":1.375,"i":-5},{"p":1.625,"i":12},{"p":1.875,"i":-10}
]
},
"layer": [
{
"data": {"name": "spec"},
"mark": {"type": "line", "color": "#0000c0", "strokeWidth": 1, "clip": true},
"encoding": {
"x": {"field": "i", "type": "quantitative", "scale": {"domain": [-34, 888], "reverse": true, "nice": false, "zero": false}, "axis": null},
"y": {"field": "p", "type": "quantitative", "scale": {"domain": [-168.83, 2.2], "reverse": true, "nice": false, "zero": false},
"axis": {"orient": "right", "values": [-160,-150,-140,-130,-120,-110,-100,-90,-80,-70,-60,-50,-40,-30,-20,-10,0],
"labelExpr": "'' + datum.value", "grid": false, "domain": true, "domainColor": "black", "domainWidth": 1,
"ticks": true, "tickSize": 7, "tickColor": "black", "tickWidth": 1,
"labelAngle": 270, "labelAlign": "center", "labelBaseline": "top", "labelPadding": 4,
"labelFont": "Liberation Serif", "labelFontSize": 17, "labelColor": "black", "labelOverlap": false,
"title": "(ppm)", "titleFont": "Liberation Serif", "titleFontSize": 17, "titleFontWeight": "normal", "titleColor": "black",
"titleAngle": 270, "titleAlign": "center", "titleBaseline": "top", "titleX": 37, "titleY": 664}},
"order": {"field": "p", "type": "quantitative"}
}
},
{
"data": {"name": "peaks"},
"mark": {"type": "rule", "color": "#cc0000", "strokeWidth": 1},
"encoding": {
"x": {"datum": 790, "type": "quantitative"},
"x2": {"datum": 760},
"y": {"field": "p", "type": "quantitative",
"axis": {"orient": "right", "tickCount": 171, "labels": false, "domain": false, "grid": false, "title": null, "ticks": true, "tickSize": 4, "tickColor": "black", "tickWidth": 1}}
}
},
{
"data": {"name": "peaks"},
"mark": {"type": "rule", "color": "#cc0000", "strokeWidth": 1, "xOffset": -5, "x2Offset": -37},
"encoding": {
"x": {"field": "i", "type": "quantitative"},
"x2": {"field": "i"},
"y": {"field": "p", "type": "quantitative", "axis": null}
}
},
{
"data": {"name": "peaks"},
"mark": {"type": "text", "color": "#cc0000", "angle": 180, "align": "left", "baseline": "middle", "font": "Liberation Serif", "fontSize": 17},
"encoding": {
"x": {"datum": 797, "type": "quantitative"},
"y": {"field": "p", "type": "quantitative", "axis": null},
"text": {"field": "t"}
}
}
],
"resolve": {"axis": {"y": "independent"}}
}
